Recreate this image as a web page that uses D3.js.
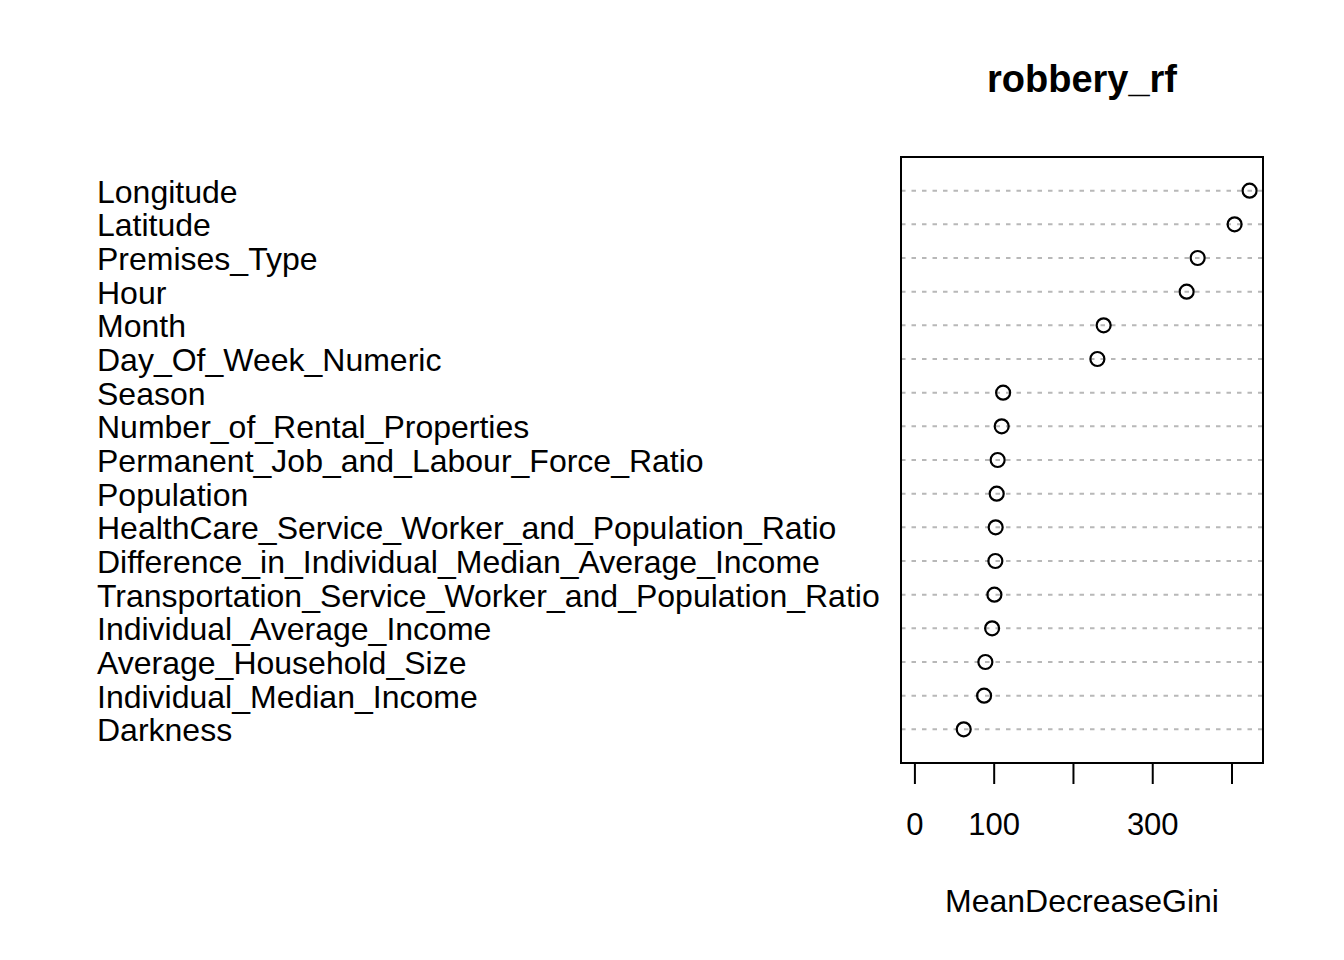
<!DOCTYPE html>
<html lang="en">
<head>
<meta charset="UTF-8">
<title>robbery_rf</title>
<script src="https://cdn.jsdelivr.net/npm/d3@7"></script>
<style>
  body { margin: 0; background: #fff; }
  text { font-family: "Liberation Sans", Arial, Helvetica, sans-serif; fill: #000; }
</style>
</head>
<body>
<div id="main"></div>
<script>
// variables, top to bottom as in the plot
var variables = [
  "Longitude", "Latitude", "Premises_Type", "Hour", "Month",
  "Day_Of_Week_Numeric", "Season", "Number_of_Rental_Properties",
  "Permanent_Job_and_Labour_Force_Ratio", "Population",
  "HealthCare_Service_Worker_and_Population_Ratio",
  "Difference_in_Individual_Median_Average_Income",
  "Transportation_Service_Worker_and_Population_Ratio",
  "Individual_Average_Income", "Average_Household_Size",
  "Individual_Median_Income", "Darkness"
];
var meanDecreaseGini = [
  422.8, 403.9, 357.3, 343.4, 238.7,
  230.8, 111.9, 110.1,
  105.0, 103.8,
  102.5,
  102.1,
  100.9,
  98.0, 89.5,
  87.9, 62.2
];
var xTicks = [0, 100, 200, 300, 400];
var xTickLabels = ["0", "100", "", "300", ""];   // R drops the ones that overlap

var W = 1344, H = 960;
var box = {left: 901, right: 1263, top: 157, bottom: 763};

var svg = d3.select('#main').append('svg')
    .attr('width', W).attr('height', H);

var maxV = d3.max(meanDecreaseGini);
var x = d3.scaleLinear()
    .domain([-0.04 * maxV, 1.04 * maxV])
    .range([box.left, box.right]);
var n = variables.length;
// row 1 is at the bottom, like dotchart
var y = d3.scaleLinear().domain([0, n + 1]).range([box.bottom, box.top]);

var rows = variables.map(function(v, i) {
  return {name: v, value: meanDecreaseGini[i], pos: n - i};
});

// dotted guide lines
svg.append('g').selectAll('line')
  .data(rows).enter().append('line')
  .attr('x1', box.left).attr('x2', box.right)
  .attr('y1', function(d) { return y(d.pos); })
  .attr('y2', function(d) { return y(d.pos); })
  .attr('stroke', '#b8b8b8')
  .attr('stroke-width', 2)
  .attr('stroke-dasharray', '4.5,6');

// points
svg.append('g').selectAll('circle')
  .data(rows).enter().append('circle')
  .attr('cx', function(d) { return x(d.value); })
  .attr('cy', function(d) { return y(d.pos); })
  .attr('r', 7)
  .attr('fill', 'none')
  .attr('stroke', '#000')
  .attr('stroke-width', 2.2);

// frame
svg.append('rect')
  .attr('x', box.left).attr('y', box.top)
  .attr('width', box.right - box.left).attr('height', box.bottom - box.top)
  .attr('fill', 'none').attr('stroke', '#000').attr('stroke-width', 2);

// labels on the left
svg.append('g').selectAll('text')
  .data(rows).enter().append('text')
  .attr('x', 97)
  .attr('y', function(d) { return y(d.pos) + 12; })
  .style('font-size', '32px')
  .text(function(d) { return d.name; });

// x axis
var xAxis = d3.axisBottom(x)
  .tickValues(xTicks)
  .tickSize(20)
  .tickPadding(29)
  .tickFormat(function(d, i) { return xTickLabels[i]; });
var gx = svg.append('g')
  .attr('transform', 'translate(0,' + (box.bottom + 1) + ')')
  .call(xAxis);
gx.select('.domain').remove();
gx.selectAll('.tick line').attr('stroke', '#000').attr('stroke-width', 2);
gx.selectAll('.tick text')
  .style('font-size', '31px')
  .attr('fill', '#000');

// axis title and main title
svg.append('text')
  .attr('x', (box.left + box.right) / 2).attr('y', 912)
  .attr('text-anchor', 'middle')
  .style('font-size', '32px')
  .text('MeanDecreaseGini');

svg.append('text')
  .attr('x', (box.left + box.right) / 2).attr('y', 92)
  .attr('text-anchor', 'middle')
  .style('font-size', '38px')
  .style('font-weight', 'bold')
  .text('robbery_rf');
</script>
</body>
</html>
